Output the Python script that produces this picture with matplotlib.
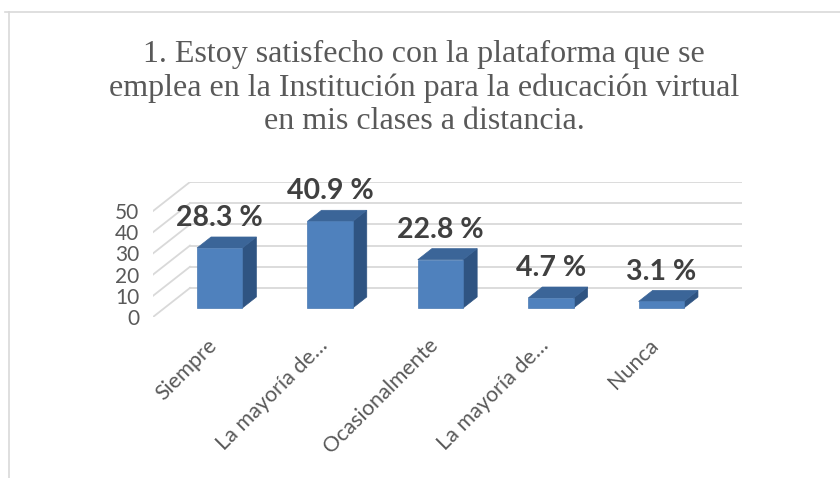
import matplotlib
matplotlib.use("Agg")
import matplotlib.pyplot as plt
from matplotlib.patches import Polygon
from matplotlib.lines import Line2D

# data
categories = ["Siempre", "La mayoría de…", "Ocasionalmente", "La mayoría de…", "Nunca"]
values = [28.3, 40.9, 22.8, 4.7, 3.1]
labels = ["28.3 %", "40.9 %", "22.8 %", "4.7 %", "3.1 %"]
yticks = [0, 10, 20, 30, 40, 50]
title = ("1. Estoy satisfecho con la plataforma que se\n"
         "emplea en la Institución para la educación virtual\n"
         "en mis clases a distancia.")

# fake 3d: depth shift of the back wall in data units
DX, DY = 0.335, 13.7
D0, D1 = 0.31, 0.69   # bar front / back depth
BW = 0.41

front_c = "#4F81BD"
side_c = "#2F5482"
top_c = "#3B6598"
grid_c = "#D9D9D9"
text_c = "#595959"

plt.rcParams["font.family"] = ["Lato", "DejaVu Sans"]

fig = plt.figure(figsize=(8.4, 4.78), dpi=100)
W, H = 840, 478
ax = fig.add_axes([153 / W, (H - 317) / H, (742 - 153) / W, 135 / H])
ax.set_xlim(-0.5, len(values) - 0.5 + DX)
ax.set_ylim(0, yticks[-1] + DY)
for s in ax.spines.values():
    s.set_visible(False)

# back wall grid + left side diagonals
for t in yticks:
    ax.plot([-0.5 + DX, len(values) - 0.5 + DX], [t + DY, t + DY], color=grid_c, lw=1.3, zorder=1)
    ax.plot([-0.5, -0.5 + DX], [t, t + DY], color=grid_c, lw=1.3, zorder=1)

# bars
for i, v in enumerate(values):
    xl = i - BW / 2 + DX * D0
    xr = i + BW / 2 + DX * D0
    yb = DY * D0
    yt = yb + v
    ddx = DX * (D1 - D0)
    ddy = DY * (D1 - D0)
    ax.add_patch(Polygon([(xr, yb), (xr + ddx, yb + ddy), (xr + ddx, yt + ddy), (xr, yt)],
                         closed=True, fc=side_c, ec=side_c, lw=0.5, zorder=3))
    ax.add_patch(Polygon([(xl, yt), (xr, yt), (xr + ddx, yt + ddy), (xl + ddx, yt + ddy)],
                         closed=True, fc=top_c, ec=top_c, lw=0.5, zorder=3))
    ax.add_patch(Polygon([(xl, yb), (xr, yb), (xr, yt), (xl, yt)],
                         closed=True, fc=front_c, ec="#4A7AB3", lw=0.5, zorder=4))
    ax.annotate(labels[i], xy=(i + DX * D0, yt), xytext=(0, 21.5), textcoords="offset points",
                ha="center", va="center", fontsize=20.5, fontweight="bold", color="#404040", zorder=5)
    ax.annotate(categories[i], xy=(i, 0), xytext=(-1, -13), textcoords="offset points",
                ha="right", va="top", rotation=45, rotation_mode="anchor",
                fontsize=15.5, color=text_c)

ax.set_xticks([])
ax.set_yticks(yticks)
ax.set_yticklabels([str(t) for t in yticks], fontsize=15, color=text_c)
ax.tick_params(axis="y", length=0, pad=10)

fig.text(424 / W, 1 - 88 / H, title, ha="center", va="center", fontsize=23,
         fontfamily=["Liberation Serif", "DejaVu Serif"], color=text_c, linespacing=1.2)

# chart frame (only top and left visible)
fig.add_artist(Line2D([5 / W, 1], [1 - 12 / H, 1 - 12 / H], color=grid_c, lw=1.2))
fig.add_artist(Line2D([9 / W, 9 / W], [0, 1 - 12 / H], color=grid_c, lw=1.2))

fig.savefig("out.png", dpi=100)
